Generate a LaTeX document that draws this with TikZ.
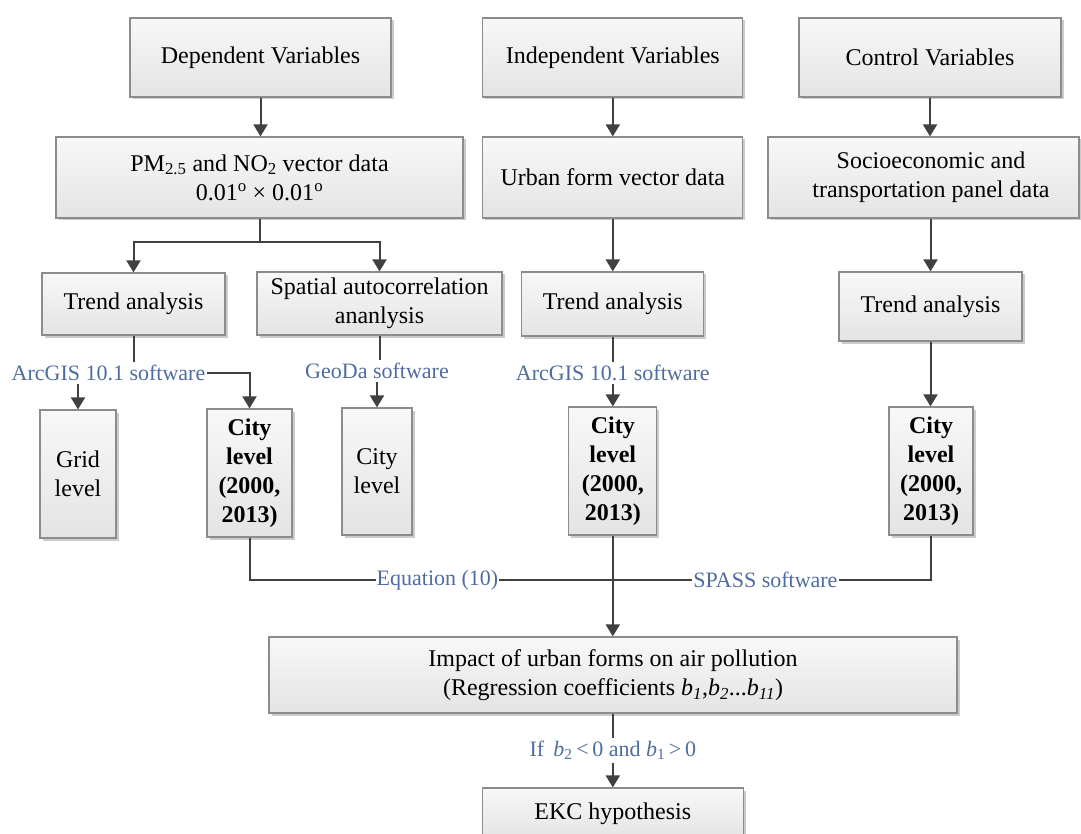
\documentclass[tikz,border=0pt]{standalone}
\usepackage{fontspec}
\setmainfont{Liberation Serif}
\usetikzlibrary{arrows.meta,shadows,calc}
\definecolor{lblue}{RGB}{79,108,160}
\definecolor{conn}{RGB}{64,64,64}
\definecolor{bord}{RGB}{140,140,140}
\definecolor{gtop}{RGB}{248,248,248}
\definecolor{gbot}{RGB}{228,228,228}
\tikzset{
 box/.style={draw=bord, line width=1.2pt, top color=gtop, bottom color=gbot,
   drop shadow={shadow xshift=2.5pt,shadow yshift=-2.5pt,opacity=0.2,fill=black},
   align=center, inner sep=0pt, font=\fontsize{24}{29}\selectfont},
 lbl/.style={text=lblue, font=\fontsize{22}{26}\selectfont, inner xsep=1pt, inner ysep=3pt},
 ln/.style={draw=conn, line width=2pt},
 arr/.style={ln, -{Triangle[width=14pt,length=12pt]}},
}
\begin{document}
\begin{tikzpicture}[x=1pt,y=-1pt]
\useasboundingbox (0,0) rectangle (1081,834);
% row 1
\node[box, minimum width=261pt, minimum height=79pt] (dep) at (260.5,57.5) {Dependent Variables};
\node[box, minimum width=260pt, minimum height=79pt] (ind) at (612.8,57.5) {Independent Variables};
\node[box, minimum width=262pt, minimum height=79pt] (ctl) at (930,57.5) {Control Variables};
% row 2
\node[box, minimum width=407pt, minimum height=81pt] (pm) at (259.5,177.5) {PM\textsubscript{2.5} and NO\textsubscript{2} vector data\\0.01\textsuperscript{o} × 0.01\textsuperscript{o}};
\node[box, minimum width=260pt, minimum height=81pt] (urb) at (612.8,177.5) {Urban form vector data};
\node[box, minimum width=311pt, minimum height=81pt] (soc) at (923.5,177.5) {\hspace*{15pt}Socioeconomic and\\\hspace*{15pt}transportation panel data};
% row 3
\node[box, minimum width=183pt, minimum height=62pt] (trL) at (133.5,304) {Trend analysis};
\node[box, minimum width=245pt, minimum height=63pt] (sp) at (379.5,303.5) {Spatial autocorrelation\\ananlysis};
\node[box, minimum width=182pt, minimum height=64pt] (trM) at (612.8,304) {Trend analysis};
\node[box, minimum width=183pt, minimum height=69pt] (trR) at (930.5,306.5) {Trend analysis};
% row 4
\node[box, minimum width=76pt, minimum height=128pt] (grid) at (78,474) {Grid\\level};
\node[box, minimum width=85pt, minimum height=128pt] (cL) at (249.5,473) {\textbf{City}\\\textbf{level}\\\textbf{(2000,}\\\textbf{2013)}};
\node[box, minimum width=70pt, minimum height=127pt] (cG) at (377,471.5) {City\\level};
\node[box, minimum width=88pt, minimum height=128pt] (cM) at (612.8,471) {\textbf{City}\\\textbf{level}\\\textbf{(2000,}\\\textbf{2013)}};
\node[box, minimum width=84pt, minimum height=128pt] (cR) at (931,471) {\textbf{City}\\\textbf{level}\\\textbf{(2000,}\\\textbf{2013)}};
% bottom
\node[box, minimum width=688pt, minimum height=76pt] (imp) at (613,675) {Impact of urban forms on air pollution\\(Regression coefficients \textit{b}\textsubscript{\textit{1}},\textit{b}\textsubscript{\textit{2}}...\textit{b}\textsubscript{\textit{11}})};
\node[box, minimum width=261pt, minimum height=52pt] (ekc) at (612.8,814) {EKC hypothesis};
% labels
\node[lbl] (arcL) at (108.5,373) {ArcGIS 10.1 software};
\node[lbl] (geo) at (377,371) {GeoDa software};
\node[lbl] (arcM) at (612.8,373) {ArcGIS 10.1 software};
\node[lbl] (eq) at (437.5,580) {Equation (10)};
\node[lbl] (spass) at (765.5,580) {SPASS software};
\node[lbl] (cond) at (612.8,750) {If \,\textit{b}\textsubscript{2}\,<\,0 and \textit{b}\textsubscript{1}\,>\,0};
% connectors
\coordinate (j1) at (259.5,242);
\draw[arr] (dep.south) -- (dep.south |- pm.north);
\draw[arr] (ind.south) -- (urb.north);
\draw[arr] (ctl.south) -- (ctl.south |- soc.north);
\draw[ln] (pm.south) -- (j1);
\draw[arr] (j1) -| (trL.north);
\draw[arr] (j1) -| (sp.north);
\draw[arr] (urb.south) -- (trM.north);
\draw[arr] (trR.north |- soc.south) -- (trR.north);
\draw[ln] (trL.south) -- (trL.south |- arcL.north);
\draw[arr] (grid.north |- arcL.south) -- (grid.north);
\draw[arr] (arcL.east) -| (cL.north);
\draw[ln] (sp.south) -- (sp.south |- geo.north);
\draw[arr] (cG.north |- geo.south) -- (cG.north);
\draw[ln] (trM.south) -- (trM.south |- arcM.north);
\draw[arr] (cM.north |- arcM.south) -- (cM.north);
\draw[arr] (trR.south) -- (trR.south |- cR.north);
\draw[ln] (cL.south) |- (eq.west);
\draw[ln] (eq.east) -- (spass.west);
\draw[ln] (spass.east) -| (cR.south);
\draw[arr] (cM.south) -- (cM.south |- imp.north);
\draw[ln] (imp.south) -- (imp.south |- cond.north);
\draw[arr] (ekc.north |- cond.south) -- (ekc.north);
\end{tikzpicture}
\end{document}
